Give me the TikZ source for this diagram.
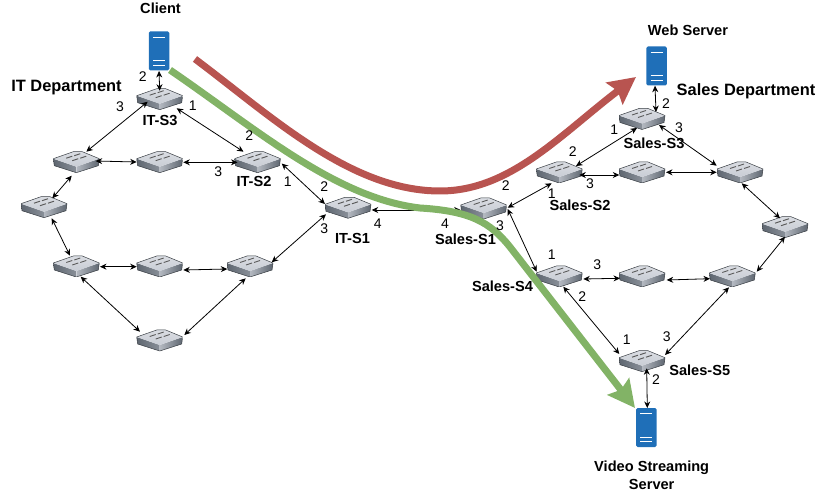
\documentclass[tikz,border=0pt]{standalone}
\usepackage{fontspec}
\setmainfont{Liberation Sans}
\usepackage{tikz}
\usetikzlibrary{arrows.meta,calc,positioning}

\definecolor{srvblue}{HTML}{1F6FB8}
\definecolor{flowred}{HTML}{B85450}
\definecolor{flowgreen}{HTML}{82B366}
\definecolor{swtop}{HTML}{C9CDD5}
\definecolor{swdark}{HTML}{5E6670}
\definecolor{swmid}{HTML}{B4B9C1}

\tikzset{
  switchbox/.style={minimum width=46pt, minimum height=22pt, inner sep=0pt,
    path picture={
      \shade[left color=swdark, right color=swmid] (-23,-3) -- (-22,4) -- (0,11) -- (0,5) -- cycle;
      \shade[left color=swmid, middle color=swmid, right color=swdark] (0,5) -- (0,11) -- (22,4) -- (23,-3) -- cycle;
      \shade[top color=swtop!70!white, bottom color=swtop] (-23,-3) -- (-3,-10) -- (6,-10) -- (23,-3) -- (0,5) -- cycle;
      \draw[swdark!60!black, line width=.5pt, line join=round] (-23,-3) -- (-3,-10) -- (6,-10) -- (23,-3) -- (22,4) -- (0,11) -- (-22,4) -- cycle;
      \draw[black!65, line width=.9pt] (-10,-3.5) -- (-4,-5.5) (-2,-6) -- (4,-8)
        (-4,-1) -- (2,-3) (4,-3.5) -- (10,-5.5);
    }},
  serverbox/.style={fill=srvblue, rounded corners=1.5pt, minimum width=20.5pt,
    minimum height=39pt, inner sep=0pt,
    path picture={
      \draw[white, line width=.8pt] (-6,-14) -- (6,-14) (-6,9.5) -- (6,9.5) (-6,14) -- (6,14);
    }},
  numlabel/.style={font=\fontsize{14}{16}\selectfont, inner sep=0pt},
  namelabel/.style={font=\fontsize{14.6}{18}\selectfont\bfseries, inner sep=0pt, align=center},
  deptlabel/.style={font=\fontsize{16.4}{18}\selectfont\bfseries, inner sep=0pt},
  link/.style={<->, line width=.8pt},
  flow/.style={line width=7pt, -{Stealth[length=27pt,width=27pt,inset=4pt]}},
}

\begin{document}
\begin{tikzpicture}[x=1pt,y=-1pt,>={Stealth[length=6.5pt,width=6pt]}]
  \useasboundingbox (0,0) rectangle (830,494);

  % servers
  \node[serverbox] (client)  at (159,51)    {};
  \node[serverbox] (web)     at (656.7,66)  {};
  \node[serverbox] (video)   at (646.3,427.5) {};

  % left ring
  \node[switchbox] (it_s3) at (159.7,98.7) {};
  \node[switchbox] (it_a)  at (76.3,161.7) {};
  \node[switchbox] (it_b)  at (159.7,161.7) {};
  \node[switchbox] (it_s2) at (257.5,161.7) {};
  \node[switchbox] (it_c)  at (44,206.7)   {};
  \node[switchbox] (it_s1) at (348,207.3)  {};
  \node[switchbox] (it_d)  at (76.3,266)   {};
  \node[switchbox] (it_e)  at (159.7,266)  {};
  \node[switchbox] (it_f)  at (250,266)    {};
  \node[switchbox] (it_g)  at (159.7,340)  {};

  % right ring
  \node[switchbox] (sa_s3) at (642,118.5)  {};
  \node[switchbox] (sa_s2) at (559.3,172)  {};
  \node[switchbox] (sa_a)  at (642,172)    {};
  \node[switchbox] (sa_b)  at (740,172)    {};
  \node[switchbox] (sa_s1) at (483.7,208)  {};
  \node[switchbox] (sa_c)  at (785,226.7)  {};
  \node[switchbox] (sa_s4) at (559.3,276)  {};
  \node[switchbox] (sa_d)  at (642,276)    {};
  \node[switchbox] (sa_e)  at (732.3,276)  {};
  \node[switchbox] (sa_s5) at (642,360.7)  {};

  % links, with the offset of each end from its node
  \foreach \na/\ax/\ay/\nb/\bx/\by in {
      client/0/20/it_s3/0/-8,
      it_s3/-12/3/it_a/10/-10,
      it_s3/17/9.6/it_s2/-14/-10,
      it_a/19.4/-0.7/it_b/-23/0.3,
      it_b/23.6/0.6/it_s2/-20/0.6,
      it_a/-4.6/14/it_c/8.3/-8.4,
      it_c/7.7/11.6/it_d/-6.3/-10.3,
      it_d/23.7/0.7/it_e/-23/0.7,
      it_e/23.6/4/it_f/-22.7/3,
      it_d/4.4/10.7/it_g/-19.7/-8.3,
      it_f/-4.3/12.3/it_g/24.6/-5,
      it_s2/24.2/1.8/it_s1/-23/-3.3,
      it_f/21.7/-3.7/it_s1/-22/7,
      it_s1/23.7/2.7/sa_s1/-23/2,
      sa_s1/24/-0.3/sa_s2/-7.6/11.3,
      sa_s1/24/1/sa_s4/-22.6/-4.3,
      sa_s2/16.7/-6/sa_s3/-5/9.5,
      sa_s2/20/3/sa_a/-22.7/3,
      sa_a/24/0.3/sa_b/-23.3/0.3,
      sa_s3/17/6.5/sa_b/-23.3/-6.3,
      sa_b/1.7/11.3/sa_c/-5/-8.4,
      sa_c/0/10/sa_e/24.4/-4.3,
      sa_e/-22.3/2.7/sa_d/24.7/4,
      sa_d/-22/2.3/sa_s4/24/3,
      sa_s4/4/10.7/sa_s5/-22.7/-6.7,
      sa_s5/23/-5.7/sa_e/-3.3/11.3,
      web/-1.7/19.7/sa_s3/14/-6.5,
      sa_s5/4.7/7.6/video/1/-19.5}
    \draw[link] ($(\na)+(\ax,\ay)$) -- ($(\nb)+(\bx,\by)$);

  % traffic paths
  \coordinate (red_a) at (195,59);
  \coordinate (red_m) at (440,191);
  \coordinate (red_b) at (636,77);
  \coordinate (grn_a) at (170,70);
  \coordinate (grn_m) at (420,208);
  \coordinate (grn_k) at (510,247);
  \coordinate (grn_b) at (635,408);
  \draw[flow, flowred] (red_a) .. controls (270,115) and (350,191) .. (red_m)
    .. controls (510,191) and (560,135) .. (red_b);
  \draw[flow, flowgreen] (grn_a) .. controls (255,128) and (335,198) .. (grn_m)
    .. controls (470,211) and (490,222) .. (grn_k) -- (grn_b);

  % names
  \node[namelabel] (l_client) at (160.5,8)  {Client};
  \node[namelabel] (l_web)    at (688,30)   {Web Server};
  \node[namelabel] (l_video)  at (651.7,475.5) {Video Streaming\\Server};
  \node[deptlabel] (l_it)     at (66.5,88)  {IT Department};
  \node[deptlabel] (l_sales)  at (746,91)   {Sales Department};
  \node[namelabel] (n_it3) at (160,120.5) {IT-S3};
  \node[namelabel] (n_it2) at (254,181)   {IT-S2};
  \node[namelabel] (n_it1) at (352.5,238) {IT-S1};
  \node[namelabel] (n_s3)  at (654,143)   {Sales-S3};
  \node[namelabel] (n_s2)  at (580,205.7) {Sales-S2};
  \node[namelabel] (n_s1)  at (465.5,239) {Sales-S1};
  \node[namelabel] (n_s4)  at (502.5,286.7) {Sales-S4};
  \node[namelabel] (n_s5)  at (699.7,370) {Sales-S5};

  % port numbers
  \foreach \px/\py/\pn in {142.7/77/2, 120/107/3, 192.7/106/1, 249.3/135.7/2, 218.3/171.7/3,
      287.7/181.7/1, 324.3/186.7/2, 324.3/228.3/3, 377.7/224/4, 445/224/4, 505.7/185.7/2,
      500/226/3, 572.7/151.7/2, 551.7/193.3/1, 590/183.3/3, 614.3/130/1, 666/104/2,
      679/128/3, 551.7/254.3/1, 597.3/265/3, 582.3/296.7/2, 626.7/340/1, 666.7/336.7/3,
      656/380/2}
    \node[numlabel] at (\px,\py) {\pn};
\end{tikzpicture}
\end{document}
